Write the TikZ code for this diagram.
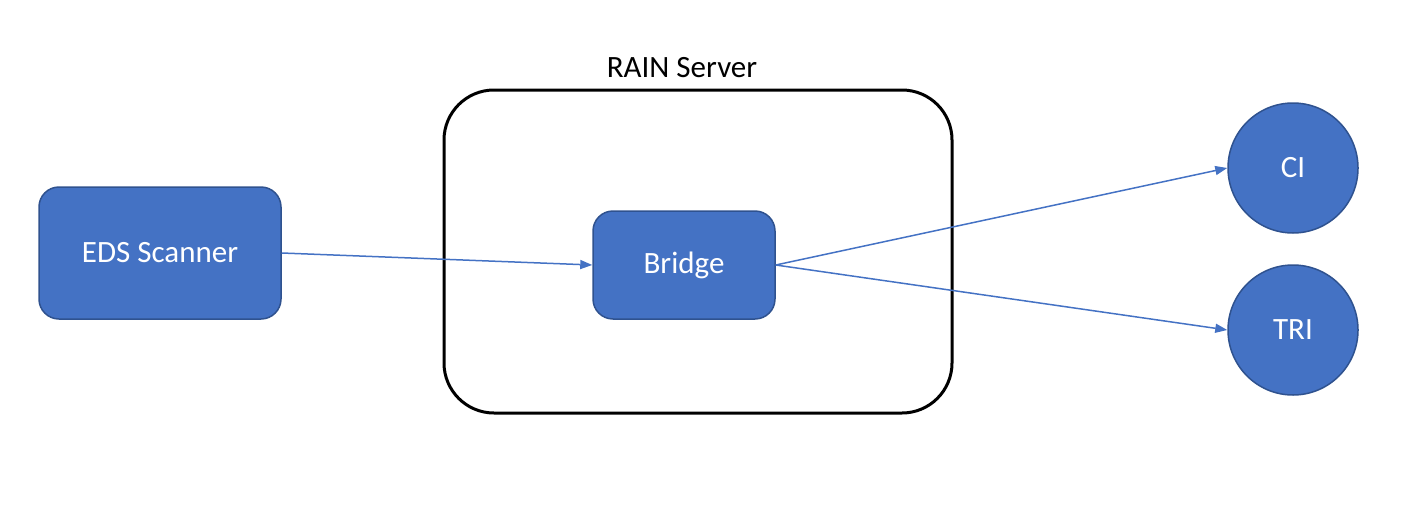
\documentclass[tikz,border=0pt]{standalone}
\usepackage{fontspec}
\setmainfont{Carlito}
\usetikzlibrary{arrows.meta}
\definecolor{boxblue}{HTML}{4472C4}
\definecolor{boxedge}{HTML}{2F528F}
\tikzset{
  bluebox/.style={draw=boxedge, line width=1.5pt, fill=boxblue, rounded corners=20pt, text=white, font=\fontsize{31}{37}\selectfont, inner sep=0pt},
  bluecirc/.style={circle, draw=boxedge, line width=1.5pt, fill=boxblue, text=white, font=\fontsize{31}{37}\selectfont, minimum size=130pt, inner sep=0pt},
  conn/.style={draw=boxblue, line width=1.5pt, -{Triangle[length=12pt,width=9pt]}}
}
\begin{document}
\begin{tikzpicture}[x=1pt,y=-1pt]
\useasboundingbox (0,0) rectangle (1410,514);
\node[draw=black, line width=3pt, rounded corners=50pt, minimum width=508pt, minimum height=323pt, inner sep=0pt] (rain) at (698,251.5) {};
\node[font=\fontsize{31}{37}\selectfont, anchor=base] (rainlabel) at (682,77) {RAIN Server};
\node[bluebox, minimum width=242pt, minimum height=132pt] (eds) at (160,253) {EDS Scanner};
\node[bluebox, minimum width=182pt, minimum height=108pt] (bridge) at (684,265) {Bridge};
\node[bluecirc] (ci) at (1293,168) {CI};
\node[bluecirc] (tri) at (1293,330) {TRI};
\draw[conn] (eds.east) -- (bridge.west);
\draw[conn] (bridge.east) -- (ci.west);
\draw[conn] (bridge.east) -- (tri.west);
\end{tikzpicture}
\end{document}
